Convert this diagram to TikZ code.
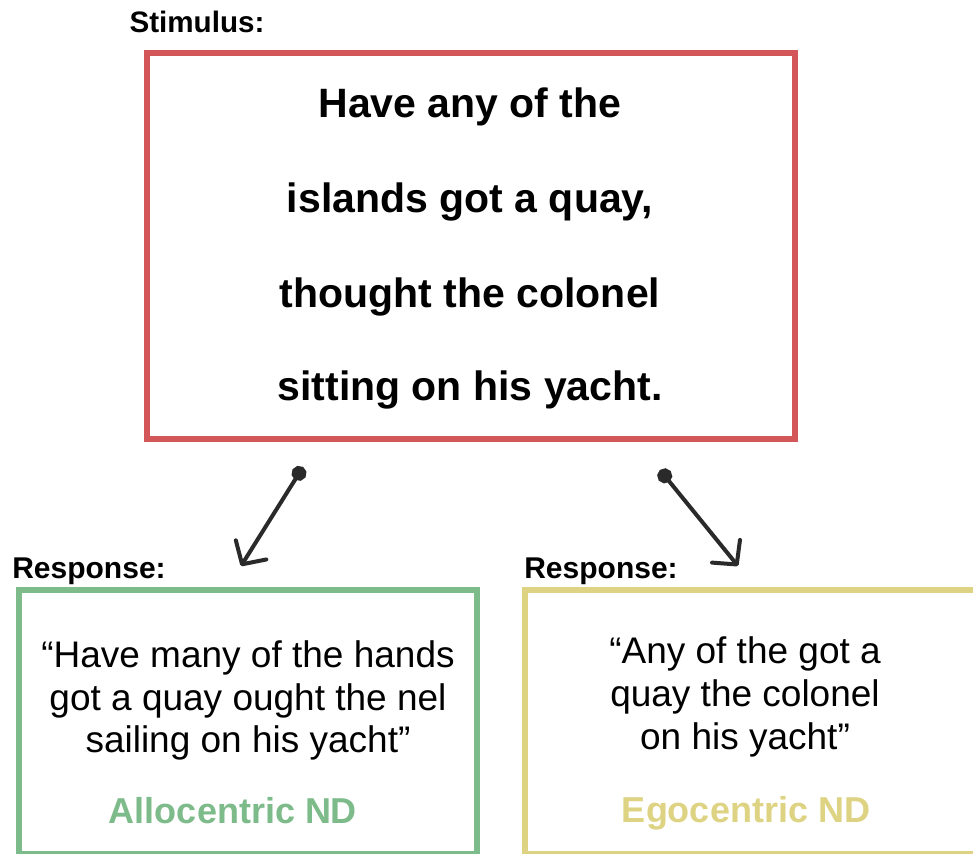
\documentclass[tikz,border=0pt]{standalone}
\usepackage{fontspec}
\setmainfont{Liberation Sans}
\usetikzlibrary{arrows.meta}
\definecolor{stimred}{HTML}{D35659}
\definecolor{allogreen}{HTML}{7DBB8A}
\definecolor{egoyellow}{HTML}{DDD383}
\definecolor{arrowgray}{HTML}{2A2A2A}
\tikzset{
  frame/.style={line width=6pt},
  label/.style={anchor=base, font=\fontsize{29.6}{34}\selectfont\bfseries},
  resplabel/.style={anchor=base, font=\fontsize{30}{34}\selectfont\bfseries},
  stimline/.style={anchor=base, font=\fontsize{41}{48}\selectfont\bfseries},
  respline/.style={anchor=base, font=\fontsize{37}{42}\selectfont},
  ndlabel/.style={anchor=base, font=\fontsize{36}{42}\selectfont\bfseries},
  link/.style={line width=4pt, draw=arrowgray, line cap=round, {Circle[length=15pt]}-{Straight Barb[length=17pt,width=36pt,line width=4pt,round]}}
}
\begin{document}
\begin{tikzpicture}[x=1pt,y=-1pt]
\useasboundingbox (0,0) rectangle (973,853);
\clip (0,0) rectangle (973,853);
\fill[white] (0,0) rectangle (973,853);
% stimulus
\node[label] (stimlabel) at (197,33) {Stimulus:};
\draw[frame, stimred] (147,53) rectangle (795,439);
\node[stimline] (s1) at (470,118) {Have any of the};
\node[stimline] (s2) at (470,212) {islands got a quay,};
\node[stimline] (s3) at (470,307) {thought the colonel};
\node[stimline] (s4) at (470,400) {sitting on his yacht.};
% arrows
\coordinate (d1) at (303,467);
\coordinate (t1) at (241,566);
\coordinate (d2) at (660,470);
\coordinate (t2) at (738,566);
\draw[link] (d1) -- (t1);
\draw[link] (d2) -- (t2);
% left response
\node[resplabel] (resp1) at (89,578) {Response:};
\draw[frame, allogreen] (19,590) rectangle (477,854);
\node[respline] (a1) at (248,667) {“Have many of the hands};
\node[respline] (a2) at (248,710) {got a quay ought the nel};
\node[respline] (a3) at (248,752) {sailing on his yacht”};
\node[ndlabel, text=allogreen] (allo) at (233,823) {Allocentric ND};
% right response
\node[resplabel] (resp2) at (601,578) {Response:};
\draw[frame, egoyellow] (525,590) rectangle (990,854);
\node[respline] (e1) at (745,663) {“Any of the got a};
\node[respline] (e2) at (745,706) {quay the colonel};
\node[respline] (e3) at (745,749) {on his yacht”};
\node[ndlabel, text=egoyellow] (ego) at (746,822) {Egocentric ND};
\end{tikzpicture}
\end{document}
